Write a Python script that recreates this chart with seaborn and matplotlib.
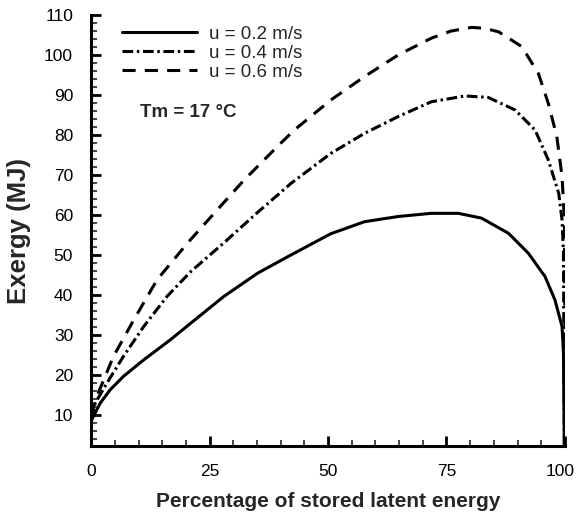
import pandas as pd
import matplotlib
matplotlib.use('Agg')
import matplotlib.pyplot as plt
import matplotlib.transforms as mtransforms
import seaborn as sns
from matplotlib.ticker import MultipleLocator

# Values
x_02 = [0, 0.1, 1.9, 4.0, 6.8, 11.1, 16.7, 21.0, 28.0, 35.1, 42.2, 50.6, 57.7, 64.8, 71.8,
        77.5, 82.4, 88.1, 92.3, 95.8, 97.9, 99.4, 99.7, 99.9]
y_02 = [7, 8.75, 12.9, 16.25, 19.6, 23.75, 28.75, 32.9, 39.6, 45.4, 50, 55.3, 58.3, 59.6, 60.4,
        60.4, 59.2, 55.4, 50.4, 44.6, 38.75, 32.1, 25.4, 0]

x_04 = [0, 0.85, 3.3, 6.8, 11.1, 16.0, 21.0, 28.0, 35.1, 42.2, 50.6, 57.7, 64.8, 71.8, 78.9,
        83.8, 89.5, 93.7, 96.5, 98.7, 99.4, 99.7, 99.9]
y_04 = [9, 12.9, 17.9, 24.6, 32.1, 39.6, 45.8, 53, 60.6, 67.9, 75.4, 80.4, 84.6, 88.3, 89.75,
        89.4, 86.25, 81.25, 73.75, 65.4, 58.75, 50.5, 0]

x_06 = [0, 1.2, 4.7, 9.0, 13.9, 20.3, 26.6, 32.3, 39.3, 42.9, 50.6, 57.7, 64.8, 71.8, 76.0,
        80.3, 83.0, 86.0, 90.9, 94.4, 96.5, 98.3, 99.4, 99.9, 100, 100]
y_06 = [10, 14.6, 24.6, 33.75, 43.75, 52.9, 61.25, 68.75, 77.1, 81.25, 88.75, 94.6, 100, 104.2, 106.0,
        106.9, 106.7, 105.8, 102.1, 95.4, 87.9, 79.6, 69.6, 58.75, 33.75, 0]

labels = ['u = 0.2 m/s', 'u = 0.4 m/s', 'u = 0.6 m/s']

df = pd.concat([
    pd.DataFrame({'pct': x_02, 'exergy': y_02, 'case': labels[0]}),
    pd.DataFrame({'pct': x_04, 'exergy': y_04, 'case': labels[1]}),
    pd.DataFrame({'pct': x_06, 'exergy': y_06, 'case': labels[2]}),
], ignore_index=True)

sns.set_style('ticks')
plt.rcParams['font.family'] = ['Liberation Sans', 'DejaVu Sans']

fig = plt.figure(figsize=(5.77, 5.18), dpi=100)
ax = fig.add_axes([0.158, 0.139, 0.821, 0.832])

dashes = {labels[0]: '', labels[1]: (3.5, 1.2, 0.8, 1.2), labels[2]: (4.3, 3)}
sns.lineplot(data=df, x='pct', y='exergy', style='case', dashes=dashes,
             color='black', linewidth=2.2, sort=False, estimator=None, ax=ax)

ax.set_xlim(0, 100)
ax.set_ylim(2.2, 110)
ax.set_xticks(range(0, 101, 25))
ax.xaxis.set_minor_locator(MultipleLocator(5))
ax.set_yticks(range(10, 111, 10))
ax.yaxis.set_minor_locator(MultipleLocator(2))
ax.tick_params(which='major', direction='in', length=7.5, width=2, labelsize=12.5, colors='black')
ax.tick_params(which='minor', direction='in', length=4, width=1.2)
ax.tick_params(axis='x', pad=13)
ax.tick_params(axis='y', pad=13)

for side in ['top', 'right']:
    ax.spines[side].set_visible(False)
for side in ['left', 'bottom']:
    ax.spines[side].set_linewidth(2.2)
    ax.spines[side].set_color('black')

ax.set_xlabel('Percentage of stored latent energy', fontsize=15, fontweight='bold')
ax.set_ylabel('Exergy (MJ)', fontsize=18.5, fontweight='bold')
ax.xaxis.set_label_coords(0.5, -0.107)
ax.yaxis.set_label_coords(-0.127, 0.5)

leg = ax.legend(loc='upper left', bbox_to_anchor=(0.065, 0.975), frameon=False, fontsize=13.5,
                handlelength=4.0, labelspacing=0.1, handletextpad=0.64,
                borderpad=0, borderaxespad=0)
for line in leg.get_lines():
    line.set_linewidth(2.2)

ax.text(0.103, 0.773, 'Tm = 17 °C', transform=ax.transAxes, fontsize=13.5, fontweight='bold', va='center')

# nudge the "100" label left so it stays inside the picture
last = ax.get_xticklabels()[-1]
last.set_transform(last.get_transform() + mtransforms.ScaledTranslation(-0.05, 0, fig.dpi_scale_trans))

fig.savefig('out.png', dpi=100)
plt.close()
